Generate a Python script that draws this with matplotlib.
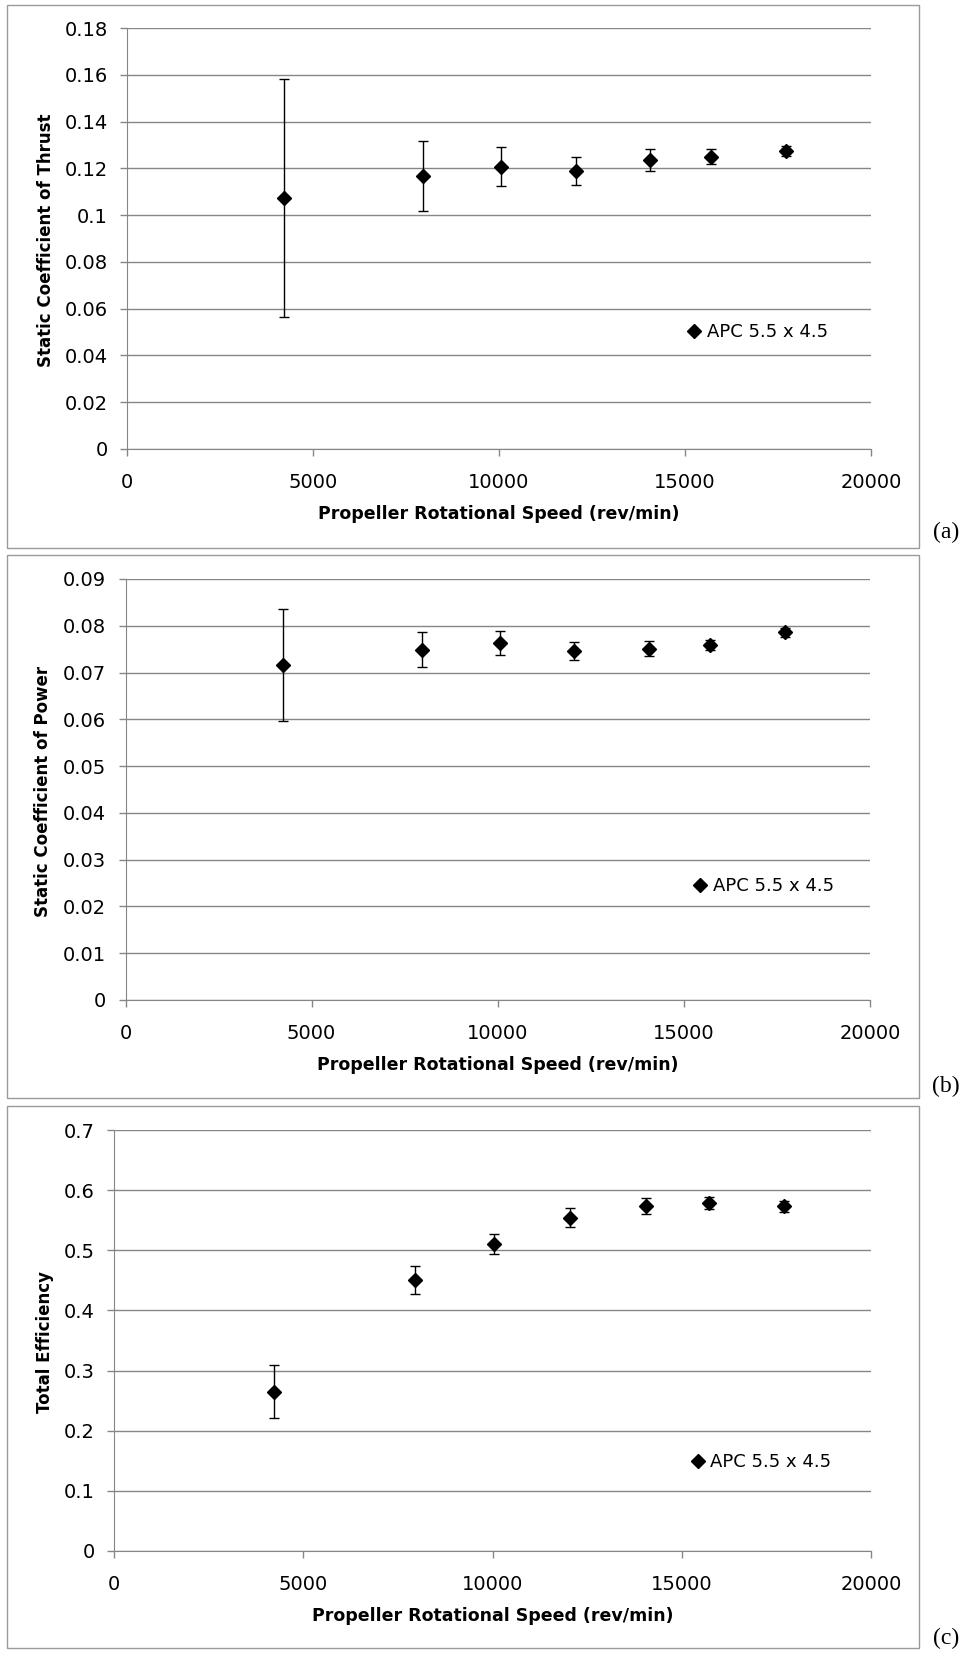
import numpy as np
import matplotlib
matplotlib.use("Agg")
from matplotlib import pyplot as plt
from matplotlib.patches import Rectangle
from matplotlib.ticker import FuncFormatter

# data
rpm = [4230, 7960, 10050, 12060, 14050, 15710, 17710]

ct = [0.1074, 0.1167, 0.1207, 0.1189, 0.1235, 0.1250, 0.1274]
ct_err = [0.0508, 0.0148, 0.0084, 0.0059, 0.0046, 0.0031, 0.0023]

cp = [0.0716, 0.0749, 0.0763, 0.0746, 0.0751, 0.0759, 0.0786]
cp_err = [0.0119, 0.0037, 0.0025, 0.0020, 0.0016, 0.0011, 0.0010]

eff = [0.2651, 0.4504, 0.5104, 0.5544, 0.5736, 0.5780, 0.5730]
eff_err = [0.0440, 0.0230, 0.0174, 0.0155, 0.0130, 0.0100, 0.0093]

series_name = "APC 5.5 x 4.5"
xlab = "Propeller Rotational Speed (rev/min)"
ylabels = ["Static Coefficient of Thrust", "Static Coefficient of Power", "Total Efficiency"]
yticks = [np.arange(0, 0.181, 0.02), np.arange(0, 0.091, 0.01), np.arange(0, 0.71, 0.1)]
tags = ["(a)", "(b)", "(c)"]

W, H = 964, 1655
fig = plt.figure(figsize=(W / 100, H / 100), dpi=100)

def fx(px):
    return px / W

def fy(py):
    return 1 - py / H

# axes boxes in pixels: left, right, top, bottom
ax_px = [(127, 871, 28, 449), (125.5, 870, 579, 1000), (114, 871, 1130, 1551)]
box_px = [(7, 919, 5, 548), (7, 919, 555, 1098), (7, 919, 1106, 1648)]
tag_px = [(946, 532), (946, 1086), (946, 1638)]
leg_pos = [(0.755, 0.278), (0.765, 0.271), (0.764, 0.211)]
ylab_x = [-0.109, -0.111, -0.091]

grey = "#868686"
panels = [(ct, ct_err), (cp, cp_err), (eff, eff_err)]

for i, (vals, errs) in enumerate(panels):
    l, r, t, b = ax_px[i]
    ax = fig.add_axes([fx(l), fy(b), fx(r) - fx(l), fy(t) - fy(b)])

    bl, br, bt, bb = box_px[i]
    fig.patches.append(Rectangle((fx(bl), fy(bb)), fx(br) - fx(bl), fy(bt) - fy(bb),
                                 transform=fig.transFigure, fill=False,
                                 edgecolor="#9a9a9a", linewidth=1.0))
    fig.text(fx(tag_px[i][0]), fy(tag_px[i][1]), tags[i], fontsize=17,
             family="Liberation Serif", ha="center", va="center")

    ax.errorbar(rpm, vals, yerr=errs, fmt="none", ecolor="black",
                elinewidth=1.0, capsize=3.5, capthick=1.0, zorder=3)
    ax.plot(rpm, vals, "D", color="black", markersize=7.5, label=series_name, zorder=4)

    yt = yticks[i]
    ax.set_xlim(0, 20000)
    ax.set_ylim(0, yt[-1])
    ax.set_xticks([0, 5000, 10000, 15000, 20000])
    ax.set_yticks(yt)
    ax.yaxis.set_major_formatter(FuncFormatter(lambda v, p: f"{round(v, 4):g}"))
    ax.grid(axis="y", color=grey, linewidth=1.0)
    ax.set_axisbelow(True)
    for s in ["top", "right"]:
        ax.spines[s].set_visible(False)
    for s in ["left", "bottom"]:
        ax.spines[s].set_color(grey)
    ax.tick_params(axis="both", colors=grey, labelcolor="black", labelsize=14,
                   length=5, width=1)
    ax.tick_params(axis="x", pad=12)
    ax.tick_params(axis="y", pad=9)

    ax.set_xlabel(xlab, fontsize=12.5, fontweight="bold")
    ax.xaxis.set_label_coords(0.5, -0.133)
    ax.set_ylabel(ylabels[i], fontsize=12, fontweight="bold", va="center")
    ax.yaxis.set_label_coords(ylab_x[i], 0.496)

    ax.legend(loc="center left", bbox_to_anchor=leg_pos[i], frameon=False,
              fontsize=13, handlelength=0.6, handletextpad=0.4,
              borderpad=0, borderaxespad=0)

fig.savefig("out.png", dpi=100)
